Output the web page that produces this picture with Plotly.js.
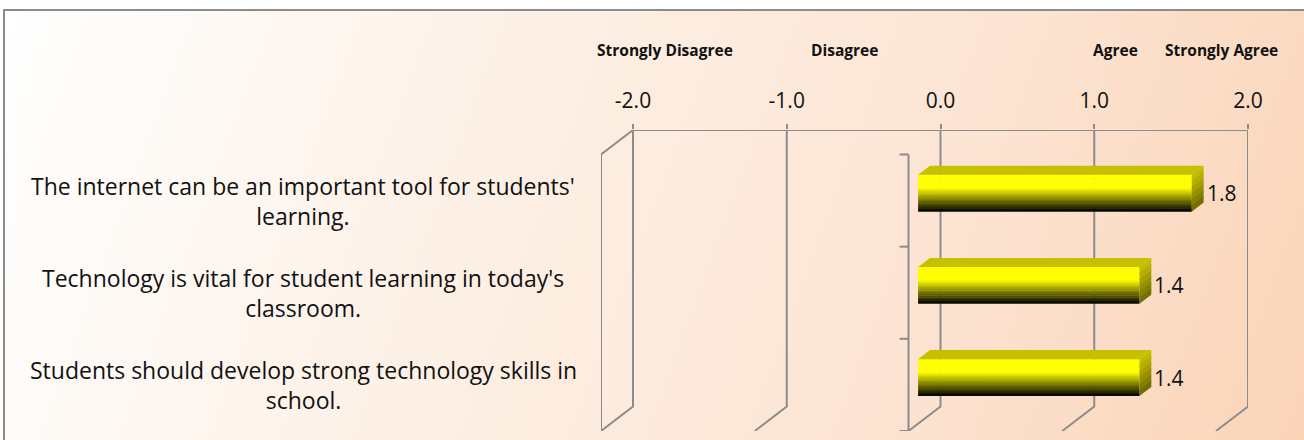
<!DOCTYPE html>
<html><head><meta charset="utf-8">
<script src="https://cdn.plot.ly/plotly-3.0.1.min.js"></script>
<style>
html,body{margin:0;padding:0;background:#fff;width:1304px;height:440px;overflow:hidden;}
#bg{position:absolute;left:3px;top:9px;width:1301px;height:431px;border-top:2px solid #8c8c8c;border-left:2px solid #8c8c8c;box-sizing:border-box;
background:linear-gradient(110deg,#ffffff 0%,#fdf1e7 35%,#fce4d3 70%,#fad4b7 100%);}
#chart{position:absolute;left:0;top:0;width:1304px;height:440px;}
</style></head><body>
<div id="bg"></div><div id="chart"></div>
<script>
// ---- data ----
const categories = [
  "The internet can be an important tool for students'<br>learning.",
  "Technology is vital for student learning in today's<br>classroom.",
  "Students should develop strong technology skills in<br>school."
];
const values = [1.78, 1.44, 1.44];
const tickValues = [-2, -1, 0, 1, 2];
const tickLabels = ["-2.0", "-1.0", "0.0", "1.0", "2.0"];
const scaleLabels = ["Strongly Disagree", "Disagree", "Agree", "Strongly Agree"];

// ---- layout geometry (positions / styles) ----
const W = 1304, H = 440, ML = 601, MR = 56, MT = 130, MB = 9;
const PW = W - ML - MR, PH = H - MT - MB;
const DX = -0.2081;   // x shift (value units) from back plane to front plane
const DY = 0.2655;    // y shift (category units) from back plane to front plane
const D_FRONT = 0.3, D_BACK = 0.67, HALF = 0.2;
const GRID = '#8c8c8c';
const scaleLabelPx = [665, 844, 1115, 1221];
const scaleLabelPy = 50;
const catLabelPx = 303;
const FONT = '"Open Sans", "Noto Sans", sans-serif';

const paperX = px => (px - ML) / PW;
const paperY = py => (H - MB - py) / PH;
const xAt = (v, d) => v + DX * (1 - d);   // value v at depth d (0 front, 1 back)
const yAt = (yf, d) => yf - DY * d;       // front-plane y at depth d

const nCat = categories.length;
const centers = categories.map((_, i) => yAt(i + 0.5, D_FRONT));
const baseF = xAt(0, D_FRONT), baseB = xAt(0, D_BACK);

// front faces as vertical gradient strips
const N = 22, h = 2 * HALF / N;
function stripColor(t) {
  let b = t < 0.36 ? 1 : Math.max(0, 1 - (t - 0.36) / 0.64);
  b = Math.pow(b, 1.05);
  const r = Math.round(255 * b), g = Math.round(255 * b);
  return `rgb(${r},${g},0)`;
}
const traces = [];
for (let k = 0; k < N; k++) {
  traces.push({
    type: 'bar', orientation: 'h',
    y: centers, x: values, base: values.map(() => baseF),
    width: h * 1.25, offset: -HALF + k * h - (k === N - 1 ? h * 0.25 : 0),
    marker: {color: stripColor((k + 0.5) / N), line: {width: 0}},
    hoverinfo: 'skip', showlegend: false
  });
}

const shapes = [];
const line = {color: GRID, width: 2};
// back grid lines with front diagonal
tickValues.forEach(v => {
  shapes.push({type: 'path', xref: 'x', yref: 'y', layer: 'below', line,
    path: `M ${v},${yAt(0, 1)} L ${v},${yAt(nCat, 1)} L ${xAt(v, 0)},${nCat}`});
});
// top back edge
shapes.push({type: 'path', xref: 'x', yref: 'y', layer: 'below', line,
  path: `M ${tickValues[0]},${yAt(0, 1)} L ${tickValues[tickValues.length - 1]},${yAt(0, 1)}`});
// left wall front edge
shapes.push({type: 'path', xref: 'x', yref: 'y', layer: 'below', line,
  path: `M ${tickValues[0]},${yAt(0, 1)} L ${xAt(tickValues[0], 0)},0 L ${xAt(tickValues[0], 0)},${nCat}`});
// category axis at value 0 on front plane
const cx = xAt(0, 0);
shapes.push({type: 'path', xref: 'x', yref: 'y', layer: 'below', line,
  path: `M ${cx},0 L ${cx},${nCat}`});
for (let i = 0; i <= nCat; i++) {
  shapes.push({type: 'path', xref: 'x', yref: 'y', layer: 'below', line,
    path: `M ${cx - 0.058},${i} L ${cx},${i}`});
}
// bar top and side faces
const sideCols = ['#c2bb00', '#b5ae00', '#a69f00', '#968f00', '#857f00', '#746f00'];
values.forEach((v, i) => {
  const yt = centers[i] - HALF, yb = centers[i] + HALF, dyb = DY * (D_BACK - D_FRONT);
  const x0f = baseF, x1f = baseF + v, x0b = baseB, x1b = baseB + v;
  shapes.push({type: 'path', xref: 'x', yref: 'y', layer: 'above', line: {width: 0},
    fillcolor: '#c6c000',
    path: `M ${x0f},${yt} L ${x1f},${yt} L ${x1b},${yt - dyb} L ${x0b},${yt - dyb} Z`});
  const ns = sideCols.length;
  for (let s = 0; s < ns; s++) {
    const a = yt + (yb - yt) * s / ns, b = yt + (yb - yt) * (s + 1.15) / ns;
    const bb = Math.min(b, yb);
    shapes.push({type: 'path', xref: 'x', yref: 'y', layer: 'above', line: {width: 0},
      fillcolor: sideCols[s],
      path: `M ${x1f},${a} L ${x1b},${a - dyb} L ${x1b},${bb - dyb} L ${x1f},${bb} Z`});
  }
});

const annotations = [];
// category labels
categories.forEach((c, i) => {
  annotations.push({xref: 'paper', yref: 'y', x: paperX(catLabelPx), y: i + 0.5,
    xanchor: 'center', yanchor: 'middle', align: 'center', showarrow: false,
    text: c, font: {family: FONT, size: 23, color: '#111'}});
});
// data labels
values.forEach((v, i) => {
  annotations.push({xref: 'x', yref: 'y', x: baseB + v, y: centers[i],
    xanchor: 'left', yanchor: 'middle', xshift: 1, showarrow: false,
    text: v.toFixed(1), font: {family: FONT, size: 21, color: '#111'}});
});
// scale labels
scaleLabels.forEach((s, i) => {
  annotations.push({xref: 'paper', yref: 'paper', x: paperX(scaleLabelPx[i]), y: paperY(scaleLabelPy),
    xanchor: 'center', yanchor: 'middle', showarrow: false,
    text: s, font: {family: FONT, size: 15.5, color: '#111', weight: 700}});
});

const layout = {
  width: W, height: H,
  margin: {l: ML, r: MR, t: MT, b: MB, pad: 0},
  paper_bgcolor: 'rgba(0,0,0,0)', plot_bgcolor: 'rgba(0,0,0,0)',
  barmode: 'overlay', showlegend: false,
  xaxis: {range: [xAt(tickValues[0], 0), tickValues[tickValues.length - 1]], side: 'top',
    tickmode: 'array', tickvals: tickValues, ticktext: tickLabels,
    showgrid: false, zeroline: false, showline: false,
    ticks: 'outside', ticklen: 5, tickwidth: 2, tickcolor: GRID, ticklabelstandoff: 8,
    tickfont: {family: FONT, size: 21, color: '#111'}, fixedrange: true},
  yaxis: {range: [nCat, yAt(0, 1)], visible: false, showgrid: false, zeroline: false, fixedrange: true},
  shapes, annotations
};
Plotly.newPlot('chart', traces, layout, {staticPlot: true, displayModeBar: false});
</script>
</body></html>
